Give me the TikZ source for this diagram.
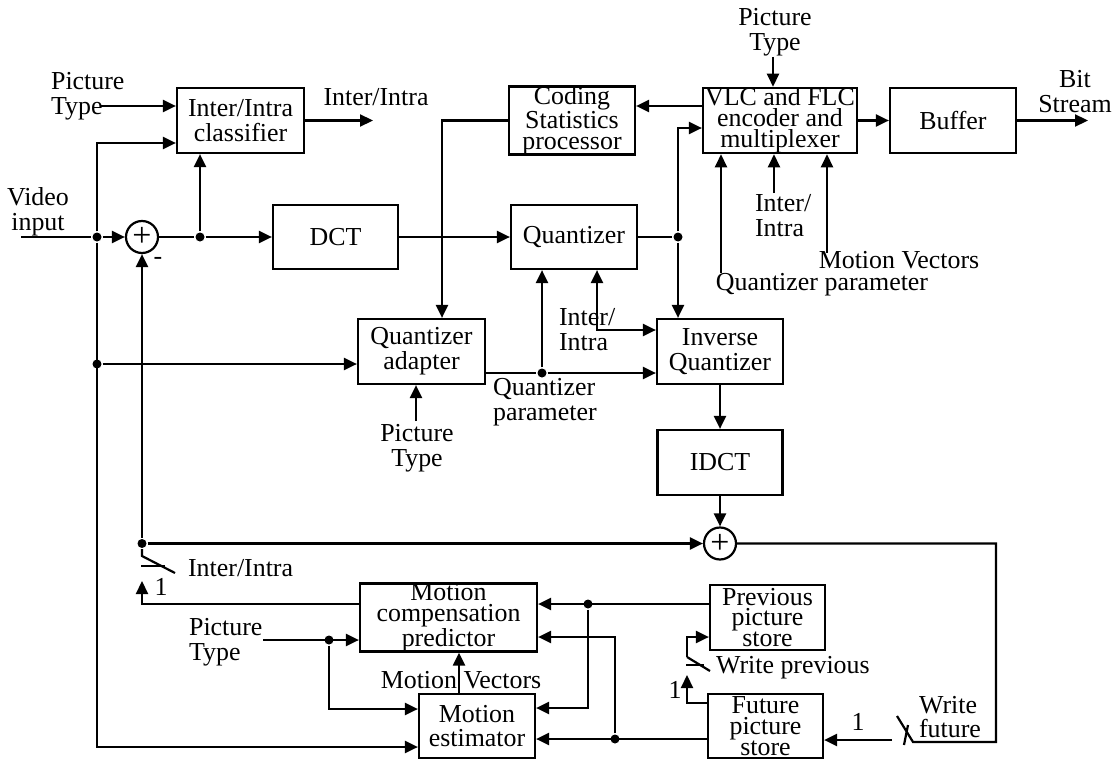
\documentclass[tikz,border=0pt]{standalone}
\usepackage{fontspec}
\setmainfont{Liberation Serif}
\usetikzlibrary{arrows.meta,positioning,calc}

\begin{document}
\begin{tikzpicture}[x=1bp,y=-1bp,
  >={Triangle[length=13bp,width=12bp]},
  every path/.style={line width=2.2bp},
  every node/.style={font=\fontsize{26}{25}\selectfont},
  block/.style={draw,rectangle,inner sep=0pt,align=center},
  tight/.style={font=\fontsize{26}{21}\selectfont},
  sumnode/.style={circle,draw,inner sep=0pt,minimum size=32bp,font=\fontsize{34}{34}\selectfont},
  jdot/.style={circle,fill=black,inner sep=0pt,minimum size=9bp},
  lbl/.style={inner sep=0pt,align=center}]
\useasboundingbox (0,0) rectangle (1120,761);
% blocks
\node[block,minimum width=127bp,minimum height=65bp] (clf) at (240.5,120.5) {Inter/Intra\\classifier};
\node[block,tight,minimum width=126bp,minimum height=65bp] (csp) at (572,120.5) {Coding\\Statistics\\processor};
\node[block,tight,minimum width=154bp,minimum height=65bp] (vlc) at (780,120.5) {VLC and FLC\\encoder and\\multiplexer};
\node[block,minimum width=126bp,minimum height=65bp] (buf) at (953,120.5) {Buffer};
\node[block,minimum width=125bp,minimum height=64bp] (dct) at (335.5,237) {DCT};
\node[block,minimum width=126bp,minimum height=64bp] (quant) at (574,237) {Quantizer};
\node[block,minimum width=127bp,minimum height=65bp] (qad) at (421.5,351.5) {Quantizer\\adapter};
\node[block,minimum width=126bp,minimum height=65bp] (iq) at (720,351.5) {Inverse\\Quantizer};
\node[block,minimum width=125bp,minimum height=65bp] (idct) at (720,462.5) {IDCT};
\node[block,tight,minimum width=177bp,minimum height=65bp] (mcp) at (448.5,617.5) {Motion\\compensation\\predictor};
\node[block,minimum width=116bp,minimum height=64bp] (me) at (477,726) {Motion\\estimator};
\node[block,tight,minimum width=115bp,minimum height=65bp] (prev) at (767.5,617.5) {Previous\\picture\\store};
\node[block,tight,minimum width=115bp,minimum height=64bp] (fut) at (765.5,726) {Future\\picture\\store};
\node[sumnode] (sum1) at (142,237) {+};
\node[sumnode] (sum2) at (720,543.5) {+};
% junctions
\node[jdot] (j1) at (97,237) {};
\node[jdot] (j2) at (200,237) {};
\node[jdot] (j3) at (678,237) {};
\node[jdot] (j4) at (97,364) {};
\node[jdot] (j5) at (542,373) {};
\node[jdot] (j6) at (142,543.5) {};
\node[jdot] (j7) at (329,640) {};
\node[jdot] (j8) at (588,604) {};
\node[jdot] (j9) at (615,739) {};
% free ends and switch points
\coordinate (vin) at (21,237);
\coordinate (ptc) at (100,106);
\coordinate (clfout) at (373,120.5);
\coordinate (ptv) at (773,57);
\coordinate (bsout) at (1088,120.5);
\coordinate (qpv) at (721,273);
\coordinate (iiv) at (774,193);
\coordinate (mvv) at (827,253);
\coordinate (ptq) at (416,421);
\coordinate (iiq) at (597,330);
\coordinate (ptm) at (263,640);
\coordinate (sw1a) at (142,556);
\coordinate (sw1b) at (175,573);
\coordinate (sw1c) at (142,581);
\coordinate (sw1d) at (141,566);
\coordinate (sw1e) at (165,566);
\coordinate (sw2a) at (687,657);
\coordinate (sw2b) at (710,671);
\coordinate (sw2c) at (687,675);
\coordinate (sw2d) at (686,665);
\coordinate (sw2e) at (704,665);
\coordinate (wf) at (996,742);
\coordinate (sw3a) at (897,716);
\coordinate (sw3b) at (913,742);
\coordinate (sw3c) at (892,740);
\coordinate (sw3d) at (908,725);
\coordinate (sw3e) at (904,745);
% forward path
\draw (vin) -- (j1);
\draw[->] (j1) -- (sum1);
\draw (sum1) -- (j2);
\draw[->] (j2) -- (dct);
\draw[->] (j2) -- (j2 |- clf.south);
\draw[->] (ptc) -- (ptc -| clf.west);
\draw[->] (j1) |- ([yshift=-22.5bp]clf.west);
\draw[->] (clf) -- (clfout);
\draw[->] (dct) -- (quant);
\draw (quant) -- (j3);
\draw[->] (j3) |- ([yshift=-7.5bp]vlc.west);
\draw[->] (j3) -- (j3 |- iq.north);
\draw[->] ([yshift=14.5bp]vlc.west) -- ([yshift=14.5bp]csp.east);
\draw[->] (csp.west) -| ([xshift=20.5bp]qad.north);
\draw[->] (vlc) -- (buf);
\draw[->] (buf) -- (bsout);
\draw[->] (ptv) -- (ptv |- vlc.north);
\draw[->] (qpv) -- (qpv |- vlc.south);
\draw[->] (iiv) -- (iiv |- vlc.south);
\draw[->] (mvv) -- (mvv |- vlc.south);
% quantizer adapter
\draw[->] (j1) |- ([yshift=-21bp]me.west);
\draw[->] (j4) -- (j4 -| qad.west);
\draw (j5 -| qad.east) -- (j5);
\draw[->] (j5) -- (j5 -| iq.west);
\draw[->] (j5) -- (j5 |- quant.south);
\draw[<->] (iiq |- quant.south) |- (iiq -| iq.west);
\draw[->] (ptq) -- (ptq |- qad.south);
% reconstruction
\draw[->] (iq) -- (idct);
\draw[->] (idct) -- (sum2);
\draw[->] (j6) -- (sum1);
\draw[->] (j6) -- (sum2);
\draw (j6) -- (sw1a) -- (sw1b);
\draw (sw1d) -- (sw1e);
\draw[->] ([yshift=13.5bp]mcp.west) -| (sw1c);
% motion part
\draw[->] (ptm) -- (ptm -| mcp.west);
\draw[->] (j7) |- ([yshift=17bp]me.west);
\draw[->] ([xshift=-18bp]me.north) -- ([xshift=-18bp]me.north |- mcp.south);
\draw[->] ([yshift=13.5bp]prev.west) -- ([yshift=13.5bp]mcp.east);
\draw[->] (j8) |- ([yshift=18bp]me.east);
\draw[->] ([yshift=-13bp]fut.west) -- ([yshift=-13bp]me.east);
\draw[->] (j9) |- ([yshift=-19.5bp]mcp.east);
\draw[->] ([yshift=23bp]fut.west) -| (sw2c);
\draw[->] (sw2a) |- ([yshift=-19.5bp]prev.west);
\draw (sw2a) -- (sw2b);
\draw (sw2d) -- (sw2e);
\draw (sum2) -| (wf) -- (sw3b) -- (sw3a);
\draw (sw3d) -- (sw3e);
\draw[->] (sw3c) -- (sw3c -| fut.east);
% labels
\node[lbl,align=left,anchor=west] (ptclf) at (50,96) {Picture\\Type};
\node[lbl] (iiout) at (376,97) {Inter/Intra};
\node[lbl] (vidin) at (38,212) {Video\\input};
\node[lbl] (minus) at (158,261) {-};
\node[lbl] (ptvlc) at (775,32) {Picture\\Type};
\node[lbl] (bitst) at (1075,92) {Bit\\Stream};
\node[lbl,align=left,anchor=west] (iivlc) at (754,216) {Inter/\\Intra};
\node[lbl] (mvvlc) at (899,260) {Motion Vectors};
\node[lbl] (qpvlc) at (822,285) {Quantizer parameter};
\node[lbl] (ptqad) at (417,448) {Picture\\Type};
\node[lbl,align=left,anchor=west] (qpar) at (492,402) {Quantizer\\parameter};
\node[lbl,align=left,anchor=west] (iiqlbl) at (558,330) {Inter/\\Intra};
\node[lbl,anchor=west] (swlbl) at (187,568) {Inter/Intra};
\node[lbl] (one1) at (161,587) {1};
\node[lbl,align=left,anchor=west] (ptmcp) at (188,642) {Picture\\Type};
\node[lbl] (mvme) at (461,680) {Motion Vectors};
\node[lbl] (one2) at (675,690) {1};
\node[lbl,anchor=west] (wprev) at (715,668) {Write previous};
\node[lbl] (one3) at (858,722) {1};
\node[lbl,align=left,anchor=west] (wfut) at (918,717) {Write\\future};
\end{tikzpicture}
\end{document}
